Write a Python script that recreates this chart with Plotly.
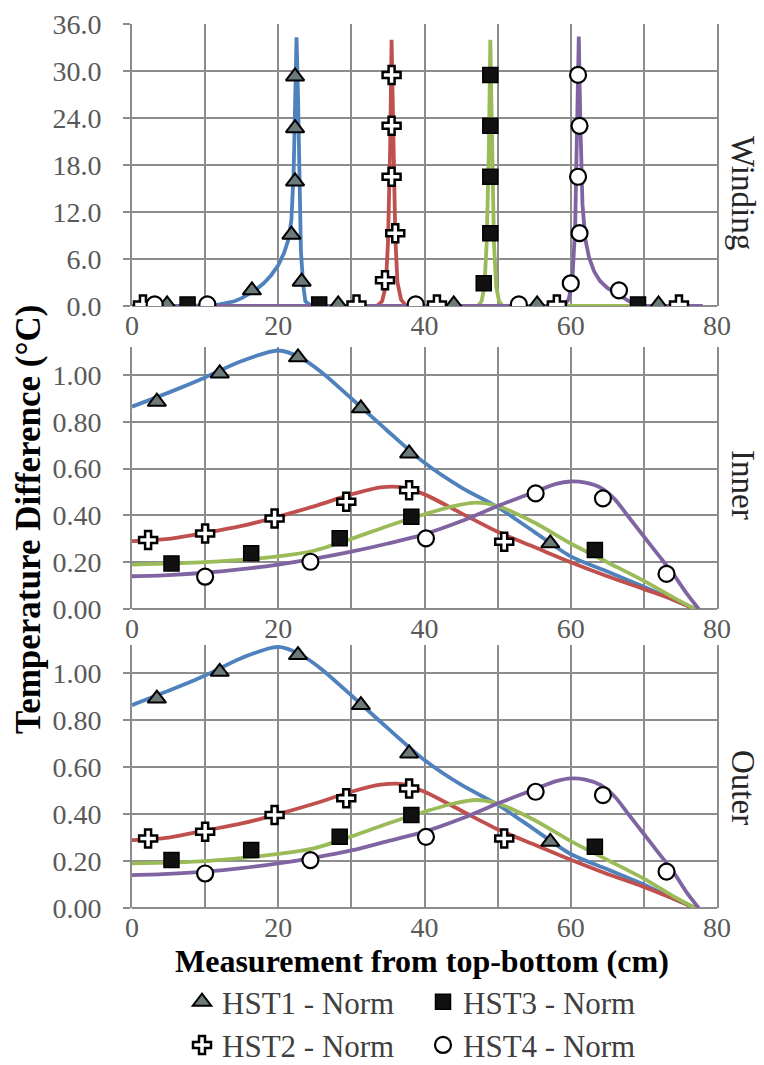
import plotly.graph_objects as go

# ---------------- data ----------------
# Winding panel: simulated curves
w_blue_x = [0, 8, 12, 14, 15, 16, 17, 18, 19, 20, 20.8, 21.4, 21.8, 22.1, 22.3, 22.5, 22.7, 22.9, 23.1, 23.4, 23.7, 24.5, 78]
w_blue_y = [0, 0, 0.2, 0.6, 1.0, 1.5, 2.1, 2.9, 3.9, 5.2, 6.8, 8.5, 11, 17, 26, 34.3, 27, 15, 7, 2.8, 0.6, 0, 0]
w_red_x = [0, 33.5, 34.2, 34.7, 35.0, 35.3, 35.5, 35.7, 36.0, 36.3, 36.8, 37.5, 78]
w_red_y = [0, 0, 0.6, 2.5, 8, 20, 34.0, 22, 9, 3, 0.8, 0, 0]
w_green_x = [0, 47.3, 47.8, 48.2, 48.5, 48.8, 49.0, 49.2, 49.5, 49.8, 50.2, 50.7, 78]
w_green_y = [0, 0, 0.6, 2.5, 8, 20, 34.0, 21, 8, 2.5, 0.6, 0, 0]
w_purple_x = [0, 59.0, 59.7, 60.2, 60.6, 60.9, 61.1, 61.3, 61.6, 62.0, 62.5, 63.2, 64.0, 65.0, 66.5, 68.0, 69.5, 78]
w_purple_y = [0, 0, 0.8, 3, 10, 22, 34.4, 24, 13, 8.5, 6.2, 4.4, 3.2, 2.3, 1.5, 0.6, 0, 0]

# Winding panel: measurements
w_hst1_x = [4.8, 16.4, 21.8, 22.3, 22.3, 22.3, 23.2, 28.2, 44.0, 55.4, 72.0]
w_hst1_y = [0.2, 2.0, 9.1, 15.9, 22.7, 29.3, 3.1, 0.2, 0.2, 0.2, 0.2]
w_hst2_x = [1.5, 30.7, 34.6, 36.0, 35.5, 35.5, 35.5, 41.7, 58.1, 74.8]
w_hst2_y = [0.2, 0.2, 3.3, 9.3, 16.5, 23.0, 29.5, 0.2, 0.2, 0.2]
w_hst3_x = [7.6, 25.6, 48.1, 49.0, 49.0, 49.0, 49.0, 69.2]
w_hst3_y = [0.2, 0.2, 2.9, 9.3, 16.5, 23.0, 29.5, 0.2]
w_hst4_x = [3.1, 10.3, 38.8, 52.9, 60.0, 61.2, 61.0, 61.2, 61.0, 66.6]
w_hst4_y = [0.2, 0.2, 0.2, 0.2, 2.9, 9.3, 16.5, 23.0, 29.5, 2.0]

# Inner panel: simulated curves
i_blue_x = [0, 5, 10, 15, 20, 23, 26, 30, 35, 40, 45, 50, 55, 60, 65, 70, 74, 77]
i_blue_y = [0.865, 0.925, 0.99, 1.06, 1.105, 1.075, 1.01, 0.9, 0.76, 0.625, 0.52, 0.435, 0.33, 0.225, 0.16, 0.095, 0.04, 0]
i_red_x = [0, 5, 10, 15, 20, 25, 30, 34, 37, 40, 45, 50, 55, 60, 65, 70, 74, 77]
i_red_y = [0.29, 0.30, 0.325, 0.355, 0.395, 0.44, 0.49, 0.52, 0.52, 0.49, 0.41, 0.33, 0.265, 0.2, 0.14, 0.085, 0.04, 0]
i_green_x = [0, 10, 20, 25, 30, 35, 40, 44, 47, 50, 55, 60, 65, 70, 74, 77]
i_green_y = [0.19, 0.2, 0.225, 0.25, 0.3, 0.355, 0.405, 0.44, 0.455, 0.44, 0.37, 0.28, 0.2, 0.12, 0.05, 0]
i_purple_x = [0, 5, 10, 15, 20, 25, 30, 35, 40, 45, 50, 55, 58, 60, 62, 64, 66, 68, 70, 72, 74, 76, 77.5]
i_purple_y = [0.14, 0.145, 0.155, 0.17, 0.19, 0.215, 0.245, 0.28, 0.32, 0.375, 0.44, 0.5, 0.535, 0.545, 0.54, 0.52, 0.47, 0.39, 0.31, 0.23, 0.15, 0.06, 0]

# Inner panel: measurements
i_hst1_x = [3.4, 12.0, 22.7, 31.3, 37.9, 57.2]
i_hst1_y = [0.886, 1.007, 1.076, 0.858, 0.665, 0.281]
i_hst2_x = [2.2, 10.0, 19.5, 29.3, 37.9, 50.9]
i_hst2_y = [0.295, 0.323, 0.387, 0.459, 0.508, 0.288]
i_hst3_x = [5.4, 16.3, 28.4, 38.2, 63.3]
i_hst3_y = [0.195, 0.238, 0.302, 0.394, 0.252]
i_hst4_x = [10.0, 24.4, 40.2, 55.2, 64.4, 73.1]
i_hst4_y = [0.138, 0.202, 0.302, 0.494, 0.473, 0.150]

# Outer panel: simulated curves
o_blue_x = [0, 5, 10, 15, 20, 23, 26, 30, 35, 40, 45, 50, 55, 60, 65, 70, 74, 77]
o_blue_y = [0.864, 0.925, 0.99, 1.065, 1.112, 1.08, 1.015, 0.905, 0.765, 0.63, 0.525, 0.44, 0.335, 0.23, 0.165, 0.1, 0.04, 0]
o_red_x = [0, 5, 10, 15, 20, 25, 30, 34, 37, 40, 45, 50, 55, 60, 65, 70, 74, 77]
o_red_y = [0.289, 0.30, 0.33, 0.36, 0.40, 0.445, 0.495, 0.525, 0.528, 0.495, 0.415, 0.335, 0.27, 0.205, 0.145, 0.09, 0.04, 0]
o_green_x = [0, 10, 20, 25, 30, 35, 40, 44, 47, 50, 55, 60, 65, 70, 74, 77]
o_green_y = [0.19, 0.2, 0.23, 0.255, 0.305, 0.36, 0.41, 0.445, 0.46, 0.445, 0.375, 0.285, 0.205, 0.125, 0.05, 0]
o_purple_x = [0, 5, 10, 15, 20, 25, 30, 35, 40, 45, 50, 55, 58, 60, 62, 64, 66, 68, 70, 72, 74, 76, 77.5]
o_purple_y = [0.14, 0.145, 0.155, 0.17, 0.19, 0.215, 0.245, 0.285, 0.325, 0.38, 0.445, 0.505, 0.54, 0.552, 0.547, 0.525, 0.475, 0.395, 0.315, 0.235, 0.155, 0.06, 0]

# Outer panel: measurements
o_hst1_x = [3.4, 12.0, 22.7, 31.3, 37.9, 57.2]
o_hst1_y = [0.892, 1.006, 1.077, 0.864, 0.658, 0.282]
o_hst2_x = [2.2, 10.0, 19.5, 29.3, 37.9, 50.9]
o_hst2_y = [0.296, 0.325, 0.396, 0.467, 0.509, 0.296]
o_hst3_x = [5.4, 16.3, 28.4, 38.2, 63.3]
o_hst3_y = [0.204, 0.247, 0.303, 0.396, 0.261]
o_hst4_x = [10.0, 24.4, 40.2, 55.2, 64.4, 73.1]
o_hst4_y = [0.147, 0.204, 0.303, 0.495, 0.481, 0.155]

series_names = ["HST1 - Norm", "HST2 - Norm", "HST3 - Norm", "HST4 - Norm"]
legend_ranks = [1, 3, 2, 4]   # two columns: HST1/HST2 left, HST3/HST4 right
panel_labels = ["Winding", "Inner", "Outer"]
x_title = "Measurement from top-bottom (cm)"
y_title = "Temperature Difference (°C)"

# ---------------- styles ----------------
FONT = '"Liberation Serif", "Times New Roman", Times, serif'
LEG_FONT = "'Liberation Serif', serif"
LINE_COLORS = ["#4F81BD", "#C0504D", "#9BBB59", "#8064A2"]
MARKERS = [
    dict(symbol="triangle-up", size=16, color="#6d7a7a", line=dict(color="#000000", width=2)),
    dict(symbol="cross", size=15, color="#ffffff", line=dict(color="#000000", width=2.5)),
    dict(symbol="square", size=15, color="#111111", line=dict(color="#000000", width=1.5)),
    dict(symbol="circle", size=16, color="#ffffff", line=dict(color="#000000", width=2.2)),
]
GRID = "#8c8c8c"
TICKC = "#595959"

fig = go.Figure()

panels = [
    ("x", "y", [(w_blue_x, w_blue_y), (w_red_x, w_red_y), (w_green_x, w_green_y), (w_purple_x, w_purple_y)],
     [(w_hst1_x, w_hst1_y), (w_hst2_x, w_hst2_y), (w_hst3_x, w_hst3_y), (w_hst4_x, w_hst4_y)], "linear"),
    ("x2", "y2", [(i_blue_x, i_blue_y), (i_red_x, i_red_y), (i_green_x, i_green_y), (i_purple_x, i_purple_y)],
     [(i_hst1_x, i_hst1_y), (i_hst2_x, i_hst2_y), (i_hst3_x, i_hst3_y), (i_hst4_x, i_hst4_y)], "spline"),
    ("x3", "y3", [(o_blue_x, o_blue_y), (o_red_x, o_red_y), (o_green_x, o_green_y), (o_purple_x, o_purple_y)],
     [(o_hst1_x, o_hst1_y), (o_hst2_x, o_hst2_y), (o_hst3_x, o_hst3_y), (o_hst4_x, o_hst4_y)], "spline"),
]

for pi, (xa, ya, lines, meas, shape) in enumerate(panels):
    for k, (lx, ly) in enumerate(lines):
        fig.add_trace(go.Scatter(
            x=lx, y=ly, mode="lines", xaxis=xa, yaxis=ya, showlegend=False,
            line=dict(color=LINE_COLORS[k], width=3.8, shape=shape, smoothing=0.8),
            hoverinfo="skip"))
    for k, (mx, my) in enumerate(meas):
        fig.add_trace(go.Scatter(
            x=mx, y=my, mode="markers", xaxis=xa, yaxis=ya,
            name=series_names[k], showlegend=(pi == 0), legendrank=legend_ranks[k],
            marker=MARKERS[k]))

# plot area: x px 132..717, y px 24..908 (of 1065)
PT, PB = 24, 908
H = PB - PT
def dom(top_px, bot_px):
    return [(PB - bot_px) / H, (PB - top_px) / H]

tickfont = dict(family=FONT, size=28, color=TICKC)
xcommon = dict(range=[0, 80], dtick=20, tick0=0, showgrid=True, gridcolor=GRID, gridwidth=2,
               minor=dict(dtick=10, showgrid=True, gridcolor=GRID, gridwidth=2),
               zeroline=False, showline=False, ticks="", tickfont=tickfont, fixedrange=True,
               automargin=False)
ycommon = dict(showgrid=True, gridcolor=GRID, gridwidth=2, zeroline=True, zerolinecolor=GRID,
               zerolinewidth=2, showline=True, linecolor=GRID, linewidth=2, mirror=True,
               ticks="outside", ticklen=7, tickcolor=GRID, tickwidth=2, tickfont=tickfont,
               ticklabelstandoff=16, fixedrange=True, automargin=False)

fig.update_layout(
    width=764, height=1065,
    margin=dict(l=132, r=47, t=PT, b=1065 - PB, autoexpand=False),
    paper_bgcolor="white", plot_bgcolor="white",
    font=dict(family=FONT, color="#000000"),
    xaxis=dict(anchor="y", **xcommon),
    xaxis2=dict(anchor="y2", **xcommon),
    xaxis3=dict(anchor="y3", **xcommon),
    yaxis=dict(anchor="x", domain=dom(24, 306), range=[0, 36], dtick=6, tickformat=".1f", **ycommon),
    yaxis2=dict(anchor="x2", domain=dom(347, 609), range=[0, 1.12], dtick=0.2, tickformat=".2f", **ycommon),
    yaxis3=dict(anchor="x3", domain=dom(645, 908), range=[0, 1.12], dtick=0.2, tickformat=".2f", **ycommon),
    legend=dict(orientation="h", x=(182 - 132) / 585, xanchor="left", y=(PB - 975) / H, yanchor="top",
                font=dict(family=LEG_FONT, size=31, color="#404040"), bgcolor="rgba(0,0,0,0)",
                entrywidth=196, entrywidthmode="pixels", itemwidth=30, tracegroupgap=0,
                traceorder="normal"),
    showlegend=True,
)

def px_x(px):
    return (px - 132) / 585
def px_y(py):
    return (PB - py) / H

annotations = [
    dict(text="<b>" + x_title + "</b>", x=px_x(422), y=px_y(961), xref="paper", yref="paper",
         showarrow=False, font=dict(family=FONT, size=32, color="#000000"), xanchor="center", yanchor="middle"),
    dict(text="<b>" + y_title + "</b>", x=px_x(28), y=px_y(520), xref="paper", yref="paper",
         showarrow=False, textangle=-90, font=dict(family=FONT, size=35, color="#000000"),
         xanchor="center", yanchor="middle"),
]
for lab, ay in zip(panel_labels, [193, 485, 787]):
    annotations.append(dict(text=lab, x=1.0 + 46 / 585, y=px_y(ay), xref="paper", yref="paper", showarrow=False,
                            textangle=90, font=dict(family=FONT, size=33, color="#262626"),
                            xanchor="right", yanchor="middle"))
fig.update_layout(annotations=annotations)

fig.write_html("out.html", config={"displayModeBar": False},
               post_script="document.body.style.margin='0px';document.body.style.overflow='hidden';")
